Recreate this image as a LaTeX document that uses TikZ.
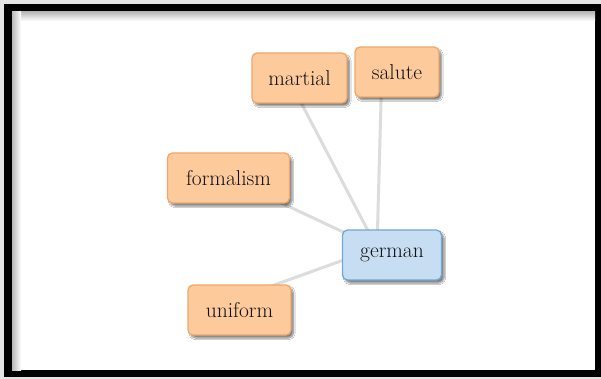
\documentclass[tikz,border=0pt]{standalone}
\usetikzlibrary{backgrounds,shadows.blur}
\definecolor{pagegray}{HTML}{E4E4E4}
\definecolor{orangefill}{HTML}{FDCA9B}
\definecolor{orangeline}{HTML}{EFA86C}
\definecolor{bluefill}{HTML}{C7DDF2}
\definecolor{blueline}{HTML}{6FA8D6}
\definecolor{linkgray}{HTML}{DCDCDC}
\definecolor{wordink}{HTML}{111111}
\tikzset{
  word/.style={rectangle, rounded corners=5pt, line width=1.3pt,
    minimum height=50pt, inner sep=0pt, text=wordink,
    font=\fontsize{21.5}{25}\selectfont,
    blur shadow={shadow xshift=2.5pt, shadow yshift=-3pt,
      shadow blur steps=6, shadow blur extra rounding=2pt, shadow opacity=50}},
  leaf/.style={word, fill=orangefill, draw=orangeline},
  hub/.style={word, fill=bluefill, draw=blueline},
  link/.style={draw=linkgray, line width=3pt}
}
\begin{document}
\begin{tikzpicture}[x=1pt, y=-1pt]
  \useasboundingbox (0,0) rectangle (601,379);

  % word nodes
  \node[leaf, minimum width=95pt]  (martial)   at (299.5,78)  {martial};
  \node[leaf, minimum width=84pt]  (salute)    at (397,72)    {salute};
  \node[leaf, minimum width=122pt] (formalism) at (228.5,178) {formalism};
  \node[hub,  minimum width=99pt]  (german)    at (392,255)   {german};
  \node[leaf, minimum width=103pt] (uniform)   at (239.5,310) {uniform};

  \begin{scope}[on background layer]
    % page and frame
    \fill[pagegray] (0,0) rectangle (601,379);
    \fill[black] (4,4) rectangle (601,377);
    \fill[white] (12,12) rectangle (595,370);
    \shade[top color=gray!55, bottom color=white] (12,12) rectangle (595,21);
    \shade[left color=gray!55, right color=white] (12,12) rectangle (21,370);
    % links behind the nodes
    \foreach \w in {martial,salute,formalism,uniform}
      \draw[link] ([shift={(-15,-7)}]\w.center) -- ([shift={(-15,-7)}]german.center);
  \end{scope}
\end{tikzpicture}
\end{document}
